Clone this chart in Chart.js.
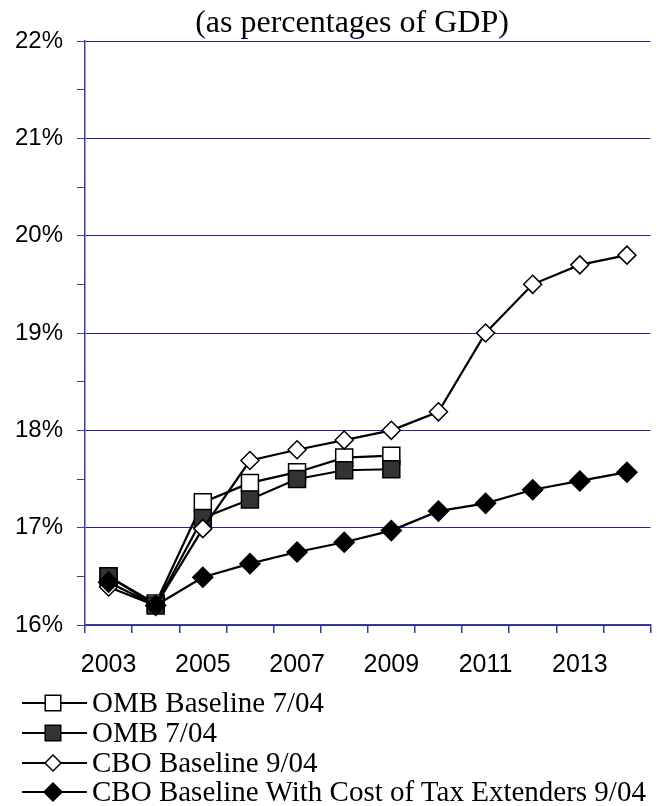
<!DOCTYPE html>
<html>
<head>
<meta charset="utf-8">
<script src="https://cdn.jsdelivr.net/npm/chart.js@4/dist/chart.umd.min.js"></script>
<style>
  html, body { margin: 0; padding: 0; background: #fff; width: 657px; height: 806px; overflow: hidden; }
  #wrap { position: relative; width: 664px; height: 697px; }
  #legend { margin-top: -8.6px; }
  .row { position: relative; height: 29.6px; padding-left: 92px; font: 29px/29.6px "Liberation Serif", "Times New Roman", serif; color: #000; white-space: nowrap; }
  .row canvas { position: absolute; left: 20px; top: 0; }
</style>
</head>
<body>
<div id="wrap"><canvas id="c"></canvas></div>
<div id="legend"></div>
<script>
/* revenues as % of GDP, 2003-2014 */
const years = ["2003", "2004", "2005", "2006", "2007", "2008", "2009", "2010", "2011", "2012", "2013", "2014"];
const ombBaseline = [16.50, 16.22, 17.26, 17.46, 17.57, 17.72, 17.74, null, null, null, null, null];
const omb704 = [16.50, 16.20, 17.10, 17.29, 17.50, 17.59, 17.60, null, null, null, null, null];
const cboBaseline = [16.39, 16.20, 16.99, 17.69, 17.80, 17.90, 18.00, 18.19, 19.00, 19.50, 19.70, 19.80];
const cboExtenders = [16.44, 16.20, 16.49, 16.63, 16.75, 16.85, 16.97, 17.17, 17.25, 17.39, 17.48, 17.57];
const yTicks = [16, 17, 18, 19, 20, 21, 22];
const heading = "(as percentages of GDP)";

const GRID = "#22229a";
const AXIS = "#3a3aa0";
const series = [
  { label: "OMB Baseline 7/04", data: ombBaseline, style: "rect", fill: "#ffffff", r: 12, lr: 11, order: 4 },
  { label: "OMB 7/04", data: omb704, style: "rect", fill: "#333333", r: 12, lr: 11, order: 3 },
  { label: "CBO Baseline 9/04", data: cboBaseline, style: "rectRot", fill: "#ffffff", r: 9, lr: 8, order: 2 },
  { label: "CBO Baseline With Cost of Tax Extenders 9/04", data: cboExtenders, style: "rectRot", fill: "#000000", r: 10, lr: 9, order: 1 }
];

// heading sits a bit right of the canvas centre, like the original
const headingPlugin = {
  id: "heading",
  afterDraw(c) {
    const ctx = c.ctx;
    ctx.save();
    ctx.font = "32px 'Liberation Serif', 'Times New Roman', serif";
    ctx.fillStyle = "#000";
    ctx.textAlign = "center";
    ctx.textBaseline = "alphabetic";
    ctx.fillText(heading, c.chartArea.left + 267, c.chartArea.top - 9);
    ctx.restore();
  }
};

const chart = new Chart(document.getElementById("c"), {
  type: "line",
  data: {
    labels: years,
    datasets: series.map((s) => ({
      label: s.label, data: s.data, order: s.order,
      borderColor: "#000", borderWidth: 2.2, fill: false, tension: 0, spanGaps: false,
      pointStyle: s.style, pointRadius: s.r, pointHoverRadius: s.r,
      pointBackgroundColor: s.fill, pointBorderColor: "#000", pointBorderWidth: 1.5,
      clip: false
    }))
  },
  options: {
    responsive: true, maintainAspectRatio: false, animation: false,
    layout: { padding: { left: 0, right: 0, top: 41, bottom: 0 } },
    plugins: {
      legend: { display: false },
      tooltip: { enabled: false },
      title: { display: false }
    },
    scales: {
      x: {
        offset: true,
        grid: { offset: true, drawOnChartArea: false, tickLength: 8, tickColor: AXIS, lineWidth: 1.5 },
        border: { color: AXIS, width: 1.5 },
        ticks: { autoSkip: false, maxRotation: 0, padding: 17, color: "#000",
          font: { family: "'Liberation Sans', Arial, sans-serif", size: 25 },
          callback: (v, i) => (i % 2 === 0 ? years[i] : "") }
      },
      y: {
        min: yTicks[0], max: yTicks[yTicks.length - 1],
        grid: { tickLength: 8, tickColor: AXIS, lineWidth: 1,
          color: (c) => (yTicks.includes(c.tick && c.tick.value) ? GRID : "rgba(0,0,0,0)") },
        border: { color: AXIS, width: 1.5 },
        ticks: { stepSize: 0.5, padding: 14, color: "#000",
          font: { family: "'Liberation Sans', Arial, sans-serif", size: 24 },
          callback: (v) => (yTicks.includes(v) ? v + "%" : "") },
        afterFit: (s) => { s.width = 85; }
      }
    }
  },
  plugins: [headingPlugin]
});

// legend: line + marker, one entry per row
const lg = document.getElementById("legend");
series.forEach((s) => {
  const row = document.createElement("div");
  row.className = "row";
  const cv = document.createElement("canvas");
  cv.width = 70; cv.height = 30;
  const ctx = cv.getContext("2d");
  ctx.strokeStyle = "#000"; ctx.lineWidth = 2;
  ctx.beginPath(); ctx.moveTo(2, 15); ctx.lineTo(67, 15); ctx.stroke();
  ctx.fillStyle = s.fill; ctx.lineWidth = 1.5;
  Chart.helpers.drawPoint(ctx, { pointStyle: s.style, radius: s.lr, borderWidth: 1.5, rotation: 0 }, 33, 15);
  row.appendChild(cv);
  row.appendChild(document.createTextNode(s.label));
  lg.appendChild(row);
});
</script>
</body>
</html>
